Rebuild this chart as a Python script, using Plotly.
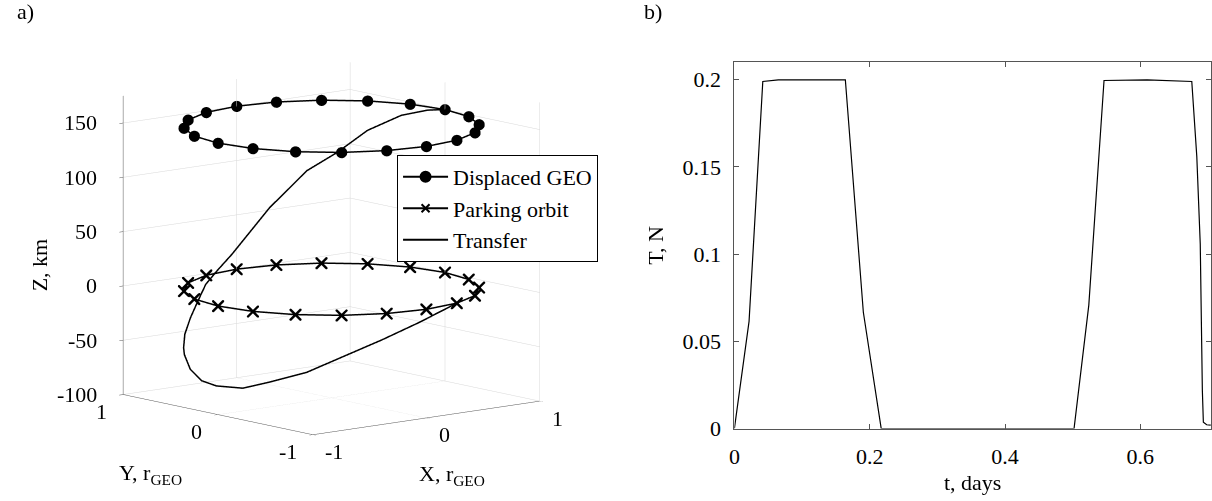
import numpy as np
import plotly.graph_objects as go

FONT = "Liberation Serif"

# ---------------- Panel a) data ----------------
ring_angle_deg = [0, 18, 36, 54, 72, 90, 108, 126, 144, 162, 180,
                  198, 216, 234, 252, 270, 288, 306, 324, 342, 360]
ring_radius = 1.0            # r_GEO
geo_z_km = 150               # displaced GEO height
parking_z_km = 0             # parking orbit height

transfer_angle_deg = [-72, -93.3, -109.9, -124.9, -139.6, -154.8, -166.7, -181.1,
                      -191.4, -202.6, -214.1, -220, -227.2, -237.4, -245.3, -251.7,
                      -259.1, -267.6, -285.2, -300.4, -312.2, -324, -338.1, -350.5, -360]
transfer_z_km = [0, -11, -23.9, -37.5, -52.8, -63.7, -71.8, -73.9,
                 -72.7, -66.5, -57.8, -53.9, -44.5, -33.5, -21.2, -8.1,
                 1.6, 14.4, 53.3, 85.5, 102, 122.9, 138.9, 146.6, 150]

z_ticks = [-100, -50, 0, 50, 100, 150]
xy_ticks = [-1, 0, 1]
x_range = [-1, 1]
y_range = [-1, 1]
z_range = [-100, 175]

# ---------------- Panel b) data ----------------
t_days = [0, 0.0217, 0.042, 0.065, 0.164, 0.183, 0.1906, 0.217, 0.502, 0.5238,
          0.5463, 0.61, 0.676, 0.6834, 0.6885, 0.6916, 0.6931, 0.698, 0.704]
thrust_N = [0, 0.0615, 0.199, 0.2, 0.2, 0.106, 0.0667, 0, 0, 0.0708,
            0.1996, 0.2, 0.199, 0.156, 0.106, 0.022, 0.0037, 0.0022, 0.002]
t_ticks = [0, 0.2, 0.4, 0.6]
T_ticks = [0, 0.05, 0.1, 0.15, 0.2]

# ---------------- build ----------------
ra = np.radians(ring_angle_deg)
ring_x = ring_radius * np.cos(ra)
ring_y = ring_radius * np.sin(ra)
ta = np.radians(transfer_angle_deg)
tr_x = ring_radius * np.cos(ta)
tr_y = ring_radius * np.sin(ta)

fig = go.Figure()

fig.add_trace(go.Scatter3d(
    x=ring_x, y=ring_y, z=[geo_z_km] * len(ring_x),
    mode="lines+markers", name="Displaced GEO", showlegend=False,
    line=dict(color="black", width=3),
    marker=dict(symbol="circle", size=6.5, color="black"),
    scene="scene", hoverinfo="skip"))
fig.add_trace(go.Scatter3d(
    x=ring_x, y=ring_y, z=[parking_z_km] * len(ring_x),
    mode="lines+markers", name="Parking orbit", showlegend=False,
    line=dict(color="black", width=3),
    marker=dict(symbol="x", size=2.8, color="black"),
    scene="scene", hoverinfo="skip"))
fig.add_trace(go.Scatter3d(
    x=tr_x, y=tr_y, z=transfer_z_km,
    mode="lines", name="Transfer", showlegend=False,
    line=dict(color="black", width=3),
    scene="scene", hoverinfo="skip"))

# legend entries (same styling as the 3-D series)
for nm, md, sym, sz in [("Displaced GEO", "lines+markers", "circle", 10),
                        ("Parking orbit", "lines+markers", "x-thin", 8),
                        ("Transfer", "lines", "circle", 1)]:
    fig.add_trace(go.Scatter(
        x=[None], y=[None], mode=md, name=nm,
        line=dict(color="black", width=2),
        marker=dict(symbol=sym, size=sz, color="black",
                    line=dict(color="black", width=2)),
        xaxis="x", yaxis="y", hoverinfo="skip"))

fig.add_trace(go.Scatter(
    x=t_days, y=thrust_N, mode="lines",
    line=dict(color="black", width=1.2),
    xaxis="x", yaxis="y", showlegend=False, hoverinfo="skip"))

ax3 = dict(showbackground=False, gridcolor="#d8d8d8", gridwidth=1,
           showline=True, linecolor="#555555", linewidth=1,
           ticks="outside", ticklen=5, tickcolor="#555555",
           zeroline=False, showspikes=False, showticklabels=False,
           title=dict(text=""))

eye_dir = np.array([-0.6313, -0.7551, 0.1771])
eye = eye_dir * 1.8
asp = 1.235

# tick labels of the 3-D box, placed at the tick positions on the box edges
tf = dict(family=FONT, size=22, color="black")
scene_ann = []
for v in z_ticks:
    scene_ann.append(dict(x=x_range[0], y=y_range[1], z=v, text=f"{v:g}",
                          showarrow=False, xanchor="right", yanchor="middle",
                          xshift=-24, yshift=0, font=tf))
for v in xy_ticks:
    scene_ann.append(dict(x=x_range[0], y=v, z=z_range[0], text=f"{v:g}",
                          showarrow=False, xanchor="right", yanchor="middle",
                          xshift=-14, yshift=-17, font=tf))
    scene_ann.append(dict(x=v, y=y_range[0], z=z_range[0], text=f"{v:g}",
                          showarrow=False, xanchor="left", yanchor="middle",
                          xshift=10, yshift=-17, font=tf))
scene_ann += [
    dict(x=0, y=y_range[0], z=z_range[0], text="X, r<sub>GEO</sub>", showarrow=False,
         xshift=25, yshift=-57, font=tf),
    dict(x=x_range[0], y=0, z=z_range[0], text="Y, r<sub>GEO</sub>", showarrow=False,
         xshift=-68, yshift=-59, font=tf),
    dict(x=x_range[0], y=y_range[1], z=37.5, text="Z, km", showarrow=False,
         textangle=-90, xshift=-84, yshift=-20, font=tf),
]

fig.update_layout(
    width=1212, height=501,
    margin=dict(l=0, r=0, t=0, b=0),
    paper_bgcolor="white", plot_bgcolor="white",
    font=dict(family=FONT, size=22, color="black"),
    scene=dict(
        domain=dict(x=[0.0, 0.5402], y=[0.0, 0.982]),
        xaxis=dict(ax3, range=x_range, tickvals=xy_ticks),
        yaxis=dict(ax3, range=y_range, tickvals=xy_ticks),
        zaxis=dict(ax3, range=z_range, tickvals=z_ticks),
        aspectmode="manual", aspectratio=dict(x=asp, y=asp, z=asp * 1.026),
        camera=dict(eye=dict(x=eye[0], y=eye[1], z=eye[2]),
                    up=dict(x=0, y=0, z=1), center=dict(x=0, y=0, z=0),
                    projection=dict(type="orthographic")),
        annotations=scene_ann,
    ),
    xaxis=dict(domain=[732 / 1212, 1211 / 1212], range=[0, 0.7044],
               tickvals=t_ticks, ticktext=["0", "0.2", "0.4", "0.6"],
               showline=True, mirror="ticks", linecolor="#555555", linewidth=1,
               ticks="inside", ticklen=5, tickcolor="#555555",
               showgrid=False, zeroline=False, anchor="y",
               ticklabelstandoff=8,
               tickfont=dict(family=FONT, size=22),
               title=dict(text="t, days", standoff=6, font=dict(family=FONT, size=22))),
    yaxis=dict(domain=[1 - 440 / 501, 1 - 64 / 501], range=[0, 0.21],
               tickvals=T_ticks, ticktext=["0", "0.05", "0.1", "0.15", "0.2"],
               showline=True, mirror="ticks", linecolor="#555555", linewidth=1,
               ticks="inside", ticklen=5, tickcolor="#555555",
               showgrid=False, zeroline=False, anchor="x",
               ticklabelstandoff=8,
               tickfont=dict(family=FONT, size=22),
               title=dict(text="T, N", standoff=12, font=dict(family=FONT, size=22))),
    legend=dict(x=393 / 1212, y=1 - 159 / 501, xanchor="left", yanchor="top",
                bgcolor="white", bordercolor="black", borderwidth=1,
                font=dict(family=FONT, size=22), itemwidth=45,
                tracegroupgap=0),
    annotations=[
        dict(x=20 / 1212, y=1 - 12 / 501, xref="paper", yref="paper", text="a)",
             xanchor="center", yanchor="middle",
             showarrow=False, font=dict(family=FONT, size=22)),
        dict(x=650 / 1212, y=1 - 12 / 501, xref="paper", yref="paper", text="b)",
             xanchor="center", yanchor="middle",
             showarrow=False, font=dict(family=FONT, size=22)),
    ],
)

fig.write_html("out.html")
